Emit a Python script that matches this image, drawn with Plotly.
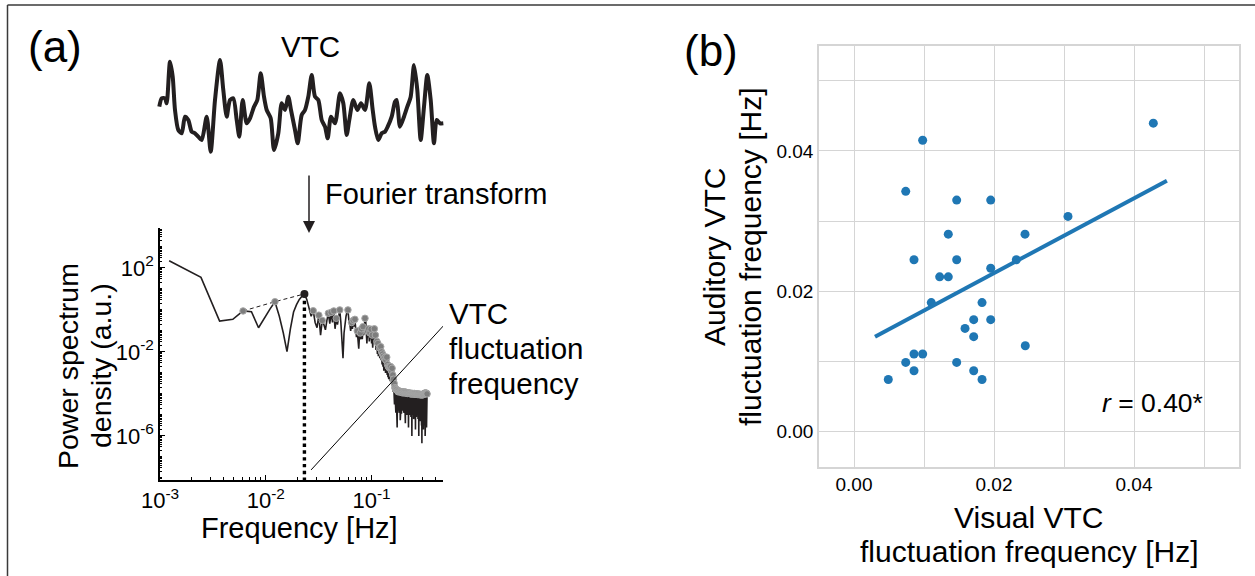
import plotly.graph_objects as go

W, H = 1255, 576
FONT = "Liberation Sans, Arial, sans-serif"
INK = "#231f20"

# ---------------- panel (a), top: VTC time course (arbitrary units) ----------------
vtc_t = [0.0, 2.4, 5.7, 7.4, 10.7, 13.4, 15.7, 19.0, 22.4, 25.7, 29.0, 32.4, 35.7, 39.0, 42.4,
         47.4, 51.4, 55.7, 60.7, 64.0, 67.4, 70.7, 74.0, 77.4, 80.0, 83.4, 87.4, 90.7, 94.7,
         98.0, 101.4, 104.7, 107.4, 111.4, 114.7, 119.0, 122.4, 125.7, 129.0, 131.7, 135.7,
         138.4, 142.4, 145.7, 149.0, 152.4, 155.7, 159.0, 162.4, 165.7, 168.4, 171.7, 175.7,
         180.7, 184.0, 187.4, 190.0, 194.0, 198.0, 201.7, 205.7, 210.0, 213.4, 215.7, 219.0,
         222.4, 225.7, 228.4, 232.4, 235.7, 237.4, 240.7, 244.7, 248.0, 251.4, 254.7, 258.0,
         261.4, 264.7, 268.0, 271.4, 274.7, 277.4, 280.7, 284.0]
vtc_v = [46.6, 55.0, 55.0, 50.0, 91.6, 76.6, 43.3, 23.3, 20.0, 36.6, 33.3, 21.6, 20.0, 16.6, 13.3,
         36.6, 1.6, 53.3, 93.3, 63.3, 36.6, 53.3, 55.0, 33.3, 16.6, 53.3, 30.0, 35.0, 46.6,
         53.3, 80.0, 56.6, 43.3, 35.0, 3.3, 20.0, 50.0, 43.3, 56.6, 43.3, 23.3,
         10.0, 38.3, 43.3, 56.6, 78.3, 56.6, 53.3, 33.3, 26.6, 15.0, 36.6, 30.0,
         60.0, 50.0, 18.3, 33.3, 53.3, 43.3, 50.0, 43.3, 70.0, 43.3, 26.6, 13.3,
         20.0, 21.6, 26.6, 36.6, 51.6, 53.3, 26.6, 36.6, 46.6, 56.6, 88.3, 63.3,
         13.3, 46.6, 78.3, 53.3, 10.0, 33.3, 30.0, 30.0]

# ---------------- panel (a), bottom: power spectrum (log10 PSD per FFT bin) ----------------
bin_width_hz = 0.00122
psd_log10 = [
    # bins 1-19
    2.34, 1.55, -0.53, -0.45, -0.05, -0.09, -0.85, -0.35, 0.05, 0.39,
    -0.3, -1.1, -1.99, -0.9, -0.1, 0.25, 0.5, 0.65, 0.76,
    # bins 20-40
    0.5, 0.15, -0.3, -0.04, -0.6, -0.85, -0.25, -1.2, -0.5, -0.7, -0.95,
    -0.5, -0.16, -0.65, -0.12, -0.6, -0.05, -0.9, -0.4, -0.7, -0.3,
    # bins 41-60
    0.0, -0.6, -1.3, -2.3, -1.1, -0.5, -0.3, -0.1, 0.0, -0.5,
    -0.65, -1.0, -0.6, -0.9, -0.5, -0.8, -0.45, -0.9, -1.3, -1.0,
    # bins 61-80
    -1.5, -1.85, -1.2, -1.1, -1.4, -0.9, -1.4, -0.8, -1.2, -0.6,
    -0.4, -0.45, -1.1, -1.6, -1.0, -1.3, -0.9, -1.5, -1.1, -1.4,
    # bins 81-100
    -0.92, -1.6, -1.2, -1.8, -1.3, -1.1, -0.9, -1.5, -1.2, -1.9,
    -1.85, -1.5, -2.1, -1.6, -2.2, -1.9, -1.8, -2.3, -1.85, -1.75,
    # bins 101-128
    -2.4, -2.0, -2.6, -2.1, -2.7, -2.2, -2.9, -2.3, -2.6, -2.25,
    -3.0, -2.4, -2.9, -2.25, -3.1, -2.6, -3.2, -2.7, -3.3, -2.75,
    -3.1, -2.72, -3.4, -2.7, -3.2, -2.9, -3.5, -2.78,
    # bins 129-275
    -3.6, -3.1, -3.9, -3.3, -4.2, -3.5, -4.5, -3.7, -4.7, -3.75,
    -4.9, -3.8, -4.6, -3.8, -5.6, -3.85, -4.8, -3.9, -4.5, -3.85,
    -4.9, -3.9, -4.6, -3.88, -5.25, -3.9, -4.7, -3.92, -4.95, -3.9,
    -4.6, -3.95, -4.8, -3.9, -4.5, -3.93, -4.9, -3.95, -4.7, -3.9,
    -5.0, -3.95, -5.4, -3.92, -4.8, -3.95, -4.6, -3.97, -5.0, -3.95,
    -4.7, -3.98, -4.9, -3.95, -5.6, -3.97, -4.8, -3.98, -5.0, -3.96,
    -4.6, -3.98, -4.9, -4.0, -5.1, -3.97, -4.7, -4.0, -6.0, -3.98,
    -4.8, -4.0, -5.0, -3.98, -4.7, -4.0, -5.2, -4.0, -4.8, -3.98,
    -5.0, -4.0, -4.7, -4.01, -5.7, -4.0, -4.9, -4.02, -5.1, -4.0,
    -4.8, -4.02, -5.0, -4.01, -4.7, -4.03, -5.2, -4.0, -4.9, -4.03,
    -6.0, -4.02, -5.0, -4.03, -4.8, -4.02, -5.3, -4.04, -4.9, -4.03,
    -5.1, -4.04, -4.8, -4.03, -5.5, -4.04, -6.35, -4.03, -5.0, -4.04,
    -5.2, -4.03, -4.9, -4.04, -5.7, -4.02, -5.1, -4.0, -4.9, -3.98,
    -5.3, -3.97, -5.0, -3.96, -6.0, -3.97, -5.2, -3.98, -5.4, -3.97,
    -5.0, -3.96, -5.6, -3.98, -5.2, -4.0, -4.05,
]
freq_hz = [bin_width_hz * (i + 1) for i in range(len(psd_log10))]
psd = [10 ** v for v in psd_log10]

# local maxima (grey circles); the highest one = fluctuation frequency
peaks = [i for i in range(1, len(psd) - 1) if psd[i] > psd[i - 1] and psd[i] > psd[i + 1]]
peak_i = max(peaks, key=lambda i: psd[i])
env_i = [i for i in peaks if i <= peak_i]

spec_x_range = [-3.0, -0.325]     # log10 Hz
spec_y_range = [-8.1, 3.9]        # log10 a.u.
pointer_start = (0.0268, 10 ** -7.62)
pointer_end = (0.475, 10 ** -0.77)

# ---------------- panel (b): scatter ----------------
visual_freq = [0.00981, 0.00739, 0.01467, 0.01953, 0.01347, 0.02443, 0.00857, 0.01467, 0.02319,
               0.01224, 0.01347, 0.01953, 0.01104, 0.01829, 0.01710, 0.01953, 0.01586, 0.01710,
               0.02447, 0.00857, 0.00981, 0.00739, 0.01467, 0.00857, 0.01710, 0.00490, 0.01829,
               0.04276, 0.03057]
auditory_freq = [0.04153, 0.03424, 0.03300, 0.03300, 0.02814, 0.02814, 0.02449, 0.02449, 0.02449,
                 0.02206, 0.02206, 0.02329, 0.01839, 0.01839, 0.01596, 0.01596, 0.01471, 0.01353,
                 0.01224, 0.01106, 0.01106, 0.00986, 0.00986, 0.00867, 0.00867, 0.00743, 0.00743,
                 0.04396, 0.03067]
fit_x = [0.0030, 0.0447]
fit_y = [0.01353, 0.03576]
r_label = "<i>r</i> = 0.40*"
b_ticks = [0.0, 0.02, 0.04]
b_ticktext = ["0.00", "0.02", "0.04"]


def fx(p):
    return p / W


def fy(p):
    return 1 - p / H


fig = go.Figure()

# VTC trace
fig.add_trace(go.Scatter(x=vtc_t, y=vtc_v, mode="lines", line=dict(color=INK, width=4, shape="spline", smoothing=0.7),
                         xaxis="x", yaxis="y", hoverinfo="skip"))

# spectrum
fig.add_trace(go.Scatter(x=[freq_hz[i] for i in env_i], y=[psd[i] for i in env_i], mode="lines",
                         line=dict(color=INK, width=1, dash="4px,3px"), xaxis="x2", yaxis="y2"))
fig.add_trace(go.Scatter(x=[freq_hz[peak_i], freq_hz[peak_i]], y=[psd[peak_i], 10 ** spec_y_range[0]],
                         mode="lines", line=dict(color="black", width=3.4, dash="dot"), xaxis="x2", yaxis="y2"))
fig.add_trace(go.Scatter(x=freq_hz, y=psd, mode="lines", line=dict(color=INK, width=1.6),
                         xaxis="x2", yaxis="y2"))
fig.add_trace(go.Scatter(x=[freq_hz[i] for i in peaks if i != peak_i], y=[psd[i] for i in peaks if i != peak_i],
                         mode="markers", marker=dict(size=6.5, color="#7d7d7d", line=dict(color="#a8a8a8", width=1)),
                         xaxis="x2", yaxis="y2"))
fig.add_trace(go.Scatter(x=[freq_hz[peak_i]], y=[psd[peak_i]], mode="markers",
                         marker=dict(size=8, color=INK), xaxis="x2", yaxis="y2"))
fig.add_trace(go.Scatter(x=[pointer_start[0], pointer_end[0]], y=[pointer_start[1], pointer_end[1]], mode="lines",
                         line=dict(color="black", width=1), xaxis="x2", yaxis="y2"))

# scatter panel (b)
fig.add_trace(go.Scatter(x=visual_freq, y=auditory_freq, mode="markers",
                         marker=dict(size=9, color="#1f77b4"), xaxis="x3", yaxis="y3"))
fig.add_trace(go.Scatter(x=fit_x, y=fit_y, mode="lines", line=dict(color="#1f77b4", width=4),
                         xaxis="x3", yaxis="y3"))

spec_major_x = [1e-3, 1e-2, 1e-1]
spec_minor_x = [m * 10 ** e for e in (-3, -2, -1) for m in range(2, 10) if m * 10 ** e < 0.48]
spec_major_y = [1e2, 1e-2, 1e-6]
spec_minor_y = [m * 10 ** e for e in range(-9, 4) for m in range(1, 10) if not (m == 1 and e in (2, -2, -6))]

grid_col = "#d5d5d5"

fig.update_layout(
    width=W, height=H, margin=dict(l=0, r=0, t=0, b=0, autoexpand=False),
    paper_bgcolor="white", plot_bgcolor="white", showlegend=False,
    font=dict(family=FONT, color="black"),
    xaxis=dict(domain=[fx(156.3), fx(446.3)], range=[-3, 287], visible=False, anchor="y"),
    yaxis=dict(domain=[fy(158.3), fy(55)], range=[-5, 98.3], visible=False, anchor="x"),
    xaxis2=dict(type="log", domain=[fx(160), fx(443)], range=spec_x_range, anchor="y2",
                showline=True, linecolor="black", linewidth=1.5, showgrid=False, zeroline=False,
                tickmode="array", tickvals=spec_major_x,
                ticktext=["10<sup>-3</sup>", "10<sup>-2</sup>", "10<sup>-1</sup>"],
                ticks="inside", ticklen=5, tickwidth=1, tickcolor="black",
                minor=dict(tickmode="array", tickvals=spec_minor_x, ticks="inside", ticklen=3,
                           tickwidth=1, tickcolor="black", showgrid=False),
                tickfont=dict(size=22, family=FONT, color="black")),
    yaxis2=dict(type="log", domain=[fy(480), fy(228)], range=spec_y_range, anchor="x2",
                showline=True, linecolor="black", linewidth=1.5, showgrid=False, zeroline=False,
                tickmode="array", tickvals=spec_major_y,
                ticktext=["10<sup>2</sup>", "10<sup>-2</sup>", "10<sup>-6</sup>"],
                ticks="inside", ticklen=5, tickwidth=1, tickcolor="black",
                minor=dict(tickmode="array", tickvals=spec_minor_y, ticks="inside", ticklen=2.5,
                           tickwidth=0.8, tickcolor="black", showgrid=False),
                tickfont=dict(size=22, family=FONT, color="black")),
    xaxis3=dict(domain=[fx(819), fx(1239)], range=[-0.005, 0.055], anchor="y3",
                tickmode="array", tickvals=b_ticks, ticktext=b_ticktext,
                showgrid=True, gridcolor=grid_col, gridwidth=1.3, zeroline=False,
                minor=dict(dtick=0.01, tick0=0, showgrid=True, gridcolor=grid_col, gridwidth=1.3, ticks=""),
                showline=True, mirror=True, linecolor=grid_col, linewidth=1.5, ticks="",
                tickfont=dict(size=19, family=FONT, color="black")),
    yaxis3=dict(domain=[fy(466.7), fy(45.7)], range=[-0.005, 0.055], anchor="x3",
                tickmode="array", tickvals=b_ticks, ticktext=b_ticktext,
                showgrid=True, gridcolor=grid_col, gridwidth=1.3, zeroline=False,
                minor=dict(dtick=0.01, tick0=0, showgrid=True, gridcolor=grid_col, gridwidth=1.3, ticks=""),
                showline=True, mirror=True, linecolor=grid_col, linewidth=1.5, ticks="",
                tickfont=dict(size=19, family=FONT, color="black")),
)


def note(text, x, y, size, angle=0, xanchor="center", yanchor="middle"):
    fig.add_annotation(text=text, x=fx(x), y=fy(y), xref="paper", yref="paper", showarrow=False,
                       font=dict(size=size, family=FONT, color="black"), textangle=angle,
                       xanchor=xanchor, yanchor=yanchor)


note("(a)", 55, 47, 44)
note("(b)", 711, 50, 44)
note("VTC", 310, 47, 29.5)
note("Fourier transform", 323, 194, 29, xanchor="left")
note("VTC", 447, 313, 29.5, xanchor="left")
note("fluctuation", 447, 348, 29.5, xanchor="left")
note("frequency", 447, 383, 29.5, xanchor="left")
note("Frequency [Hz]", 299.5, 528, 29)
note("Power spectrum", 68, 366, 28.5, angle=-90)
note("density (a.u.)", 101, 366, 28.5, angle=-90)
note("Auditory VTC", 714, 257, 30, angle=-90)
note("fluctuation frequency [Hz]", 750, 257, 30, angle=-90)
note("Visual VTC", 1029, 517, 30)
note("fluctuation frequency [Hz]", 1029, 551, 30)
note(r_label, 1205, 403, 26.5, xanchor="right")

# Fourier-transform arrow
fig.add_annotation(text="", x=fx(309), y=fy(233), xref="paper", yref="paper", showarrow=True,
                   ax=0, ay=-59, arrowhead=2, arrowsize=1.6, arrowwidth=1.5, arrowcolor=INK)

# outer frame (left and top edges)
fig.add_shape(type="line", xref="paper", yref="paper", x0=fx(7.5), x1=fx(7.5), y0=0, y1=fy(5),
              line=dict(color="#3a3a3a", width=1.5))
fig.add_shape(type="line", xref="paper", yref="paper", x0=fx(7.5), x1=1, y0=fy(5), y1=fy(5),
              line=dict(color="#3a3a3a", width=1.5))

fig.write_html("out.html", config={"displayModeBar": False},
               post_script="document.body.style.margin='0';document.body.style.overflow='hidden';")
